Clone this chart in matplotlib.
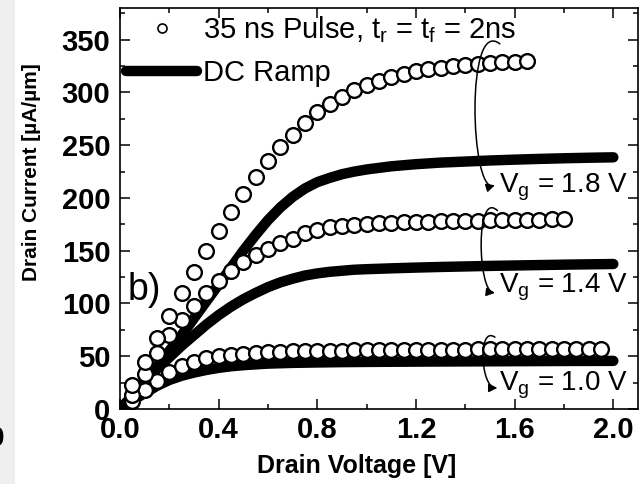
import matplotlib
matplotlib.use("Agg")
import matplotlib.pyplot as plt
from matplotlib.lines import Line2D
from matplotlib.patches import FancyArrowPatch, Rectangle
from matplotlib.path import Path
from matplotlib.ticker import MultipleLocator

plt.rcParams["font.family"] = ["Liberation Sans", "DejaVu Sans"]
plt.rcParams["mathtext.fontset"] = "custom"
plt.rcParams["mathtext.rm"] = "Liberation Sans"
plt.rcParams["mathtext.it"] = "Liberation Sans:italic"
plt.rcParams["mathtext.bf"] = "Liberation Sans:bold"

# ---- pulsed I-V (35 ns pulse), drain voltage in V, current in uA/um ----
v_pulse_10 = [0.05, 0.10, 0.15, 0.20, 0.25, 0.30, 0.35, 0.40, 0.45, 0.50,
              0.55, 0.60, 0.65, 0.70, 0.75, 0.80, 0.85, 0.90, 0.95, 1.00,
              1.05, 1.10, 1.15, 1.20, 1.25, 1.30, 1.35, 1.40, 1.45, 1.50,
              1.55, 1.60, 1.65, 1.70, 1.75, 1.80, 1.85, 1.90, 1.95]
i_pulse_10 = [8, 18, 27, 35, 41, 45, 48, 50, 51.5, 52.5,
              53.2, 53.8, 54.2, 54.5, 54.8, 55.0, 55.2, 55.4, 55.5, 55.6,
              55.7, 55.8, 55.9, 56.0, 56.1, 56.2, 56.2, 56.3, 56.4, 56.4,
              56.5, 56.5, 56.6, 56.6, 56.7, 56.7, 56.8, 56.8, 56.8]

v_pulse_14 = [0.05, 0.10, 0.15, 0.20, 0.25, 0.30, 0.35, 0.40, 0.45, 0.50,
              0.55, 0.60, 0.65, 0.70, 0.75, 0.80, 0.85, 0.90, 0.95, 1.00,
              1.05, 1.10, 1.15, 1.20, 1.25, 1.30, 1.35, 1.40, 1.45, 1.50,
              1.55, 1.60, 1.65, 1.70, 1.75, 1.80]
i_pulse_14 = [13, 33, 53, 70, 84, 98, 110, 121, 131, 139,
              146, 152, 157, 161.5, 167, 170, 172, 173.5, 174.5, 175.3,
              176.0, 176.5, 177.0, 177.3, 177.6, 177.9, 178.2, 178.4, 178.6, 178.8,
              179.0, 179.2, 179.4, 179.5, 179.6, 179.8]

v_pulse_18 = [0.05, 0.10, 0.15, 0.20, 0.25, 0.30, 0.35, 0.40, 0.45, 0.50,
              0.55, 0.60, 0.65, 0.70, 0.75, 0.80, 0.85, 0.90, 0.95, 1.00,
              1.05, 1.10, 1.15, 1.20, 1.25, 1.30, 1.35, 1.40, 1.45, 1.50,
              1.55, 1.60, 1.65]
i_pulse_18 = [23, 45, 67, 88, 110, 130, 150, 169, 187, 204,
              220, 235, 248, 260, 271, 281, 289, 296, 302, 307,
              311, 314.5, 317.5, 320, 322, 323.5, 325, 326, 327, 327.8,
              328.5, 329, 329.5]

# ---- DC ramp I-V ----
v_dc_10 = [0, 0.05, 0.10, 0.15, 0.20, 0.25, 0.30, 0.35, 0.40, 0.45, 0.50,
           0.55, 0.60, 0.70, 0.80, 0.90, 1.00, 1.20, 1.40, 1.60, 1.80, 2.00]
i_dc_10 = [0, 8, 15, 22, 27.5, 31.5, 34.5, 37, 39, 40.5, 41.5,
           42.3, 43, 43.7, 44.1, 44.4, 44.6, 44.9, 45.1, 45.3, 45.5, 45.6]

v_dc_14 = [0, 0.05, 0.10, 0.15, 0.20, 0.25, 0.30, 0.35, 0.40, 0.45, 0.50,
           0.55, 0.60, 0.65, 0.70, 0.75, 0.80, 0.85, 0.90, 0.95, 1.00,
           1.10, 1.20, 1.30, 1.40, 1.50, 1.60, 1.70, 1.80, 1.90, 2.00]
i_dc_14 = [0, 12, 25, 38, 49, 60, 70, 80, 89, 97, 104,
           110, 115.5, 120, 123.5, 126.5, 128.5, 130, 131, 132, 132.5,
           133.3, 134, 134.6, 135.1, 135.6, 136, 136.4, 136.8, 137.1, 137.4]

v_dc_18 = [0, 0.05, 0.10, 0.15, 0.20, 0.25, 0.30, 0.35, 0.40, 0.45, 0.50,
           0.55, 0.60, 0.65, 0.70, 0.75, 0.80, 0.85, 0.90, 0.95, 1.00,
           1.10, 1.20, 1.30, 1.40, 1.50, 1.60, 1.70, 1.80, 1.90, 2.00]
i_dc_18 = [0, 12, 26, 40, 55, 70, 86, 102, 118, 134, 150,
           165, 179, 191, 201, 209, 215, 219, 222.5, 225, 227,
           230, 232, 233.5, 234.5, 235.5, 236.3, 237, 237.6, 238.1, 238.5]

x_ticks = [0.0, 0.4, 0.8, 1.2, 1.6, 2.0]
y_ticks = [0, 50, 100, 150, 200, 250, 300, 350]

gate_labels = ["1.8", "1.4", "1.0"]

W, H = 642, 484
fig = plt.figure(figsize=(W / 100, H / 100), dpi=100)

# faint strip of the neighbouring panel on the far left
fig.patches.append(Rectangle((0, 0), 15 / W, 1, transform=fig.transFigure,
                             facecolor="#efefef", edgecolor="none", zorder=0))
ax_side = fig.add_axes([-0.3, 1 - 415 / H, 0.3 + 5 / W, 415 / H + 0.05])
ax_side.set_facecolor("none")
ax_side.set_xlim(0, 1)
ax_side.yaxis.set_major_locator(MultipleLocator(16.07))
ax_side.tick_params(axis="y", which="both", direction="in", left=False, right=True,
                    labelleft=False, length=5, width=1.0)
ax_side.tick_params(axis="x", bottom=False, labelbottom=False)
ax_side.set_ylim(-12, (415 / H + 0.05) * H)
for s in ["left", "top"]:
    ax_side.spines[s].set_visible(False)
for s in ["right", "bottom"]:
    ax_side.spines[s].set_linewidth(1.0)
fig.text(4 / W, 1 - 426 / H, "0", ha="right", va="top", fontsize=20, fontweight="bold")

ax = fig.add_axes([120 / W, 1 - 409 / H, (638 - 120) / W, (409 - 8) / H])
ax.set_xlim(0, 2.1)
ax.set_ylim(0, 380)

dc_style = dict(color="black", lw=7.5, solid_capstyle="round", zorder=2)
ax.plot(v_dc_10, i_dc_10, **dc_style)
ax.plot(v_dc_14, i_dc_14, **dc_style)
ax.plot(v_dc_18, i_dc_18, **dc_style)

pulse_style = dict(ls="none", marker="o", ms=10.6, mfc="white", mec="black", mew=1.7, zorder=3)
ax.plot(v_pulse_10, i_pulse_10, **pulse_style)
ax.plot(v_pulse_14, i_pulse_14, **pulse_style)
ax.plot(v_pulse_18, i_pulse_18, **pulse_style)

ax.xaxis.set_minor_locator(MultipleLocator(0.2))
ax.yaxis.set_minor_locator(MultipleLocator(25))
ax.set_xticks(x_ticks)
ax.set_xticklabels([f"{t:.1f}" for t in x_ticks])
ax.set_yticks(y_ticks)
ax.set_yticklabels([str(t) for t in y_ticks])
ax.tick_params(which="both", direction="in", top=True, right=True, width=1.1)
ax.tick_params(which="major", length=7, labelsize=21)
ax.tick_params(which="minor", length=3.5)
ax.tick_params(axis="x", pad=5)
ax.tick_params(axis="y", pad=7)
for lab in ax.get_xticklabels() + ax.get_yticklabels():
    lab.set_fontweight("bold")
for s in ax.spines.values():
    s.set_linewidth(1.2)

fig.text(357 / W, 1 - 466 / H, "Drain Voltage [V]", ha="center", va="center",
         fontsize=18, fontweight="bold")
fig.text(32 / W, 1 - 172 / H, "Drain Current [µA/µm]", ha="center", va="center",
         rotation=90, fontsize=15, fontweight="bold")

handles = [
    Line2D([], [], ls="none", marker="o", ms=6.5, mfc="white", mec="black", mew=1.2),
    Line2D([], [], color="black", lw=7.5, solid_capstyle="round"),
]
labels = [r"35 ns Pulse, t$_\mathregular{r}$ = t$_\mathregular{f}$ = 2ns", "DC Ramp"]
ax.legend(handles, labels, loc="upper left", bbox_to_anchor=(0, 1), frameon=False,
          fontsize=21, handlelength=2.45, handletextpad=0.2, labelspacing=0.5,
          borderaxespad=0.0, borderpad=0.2)

ax.text(0.032, 103, "b)", fontsize=27, ha="left", va="baseline")

# curved callouts tying each pulse/DC pair to its gate voltage
callouts = [
    ([(1.54, 346), (1.40, 372), (1.42, 205), (1.52, 212)], 205.5),
    ([(1.53, 188), (1.44, 208), (1.45, 112), (1.52, 110)], 110),
    ([(1.52, 68), (1.45, 80), (1.46, 20), (1.53, 20)], 18),
]
for (pts, ybase), g in zip(callouts, gate_labels):
    path = Path(pts, [Path.MOVETO, Path.CURVE4, Path.CURVE4, Path.CURVE4])
    arr = FancyArrowPatch(path=path, arrowstyle="-|>,head_length=5,head_width=2.5",
                          color="black", lw=1.1, transform=ax.transData, zorder=5)
    ax.add_patch(arr)
    ax.text(1.538, ybase, r"V$_\mathregular{g}$ = " + g + " V", fontsize=20,
            ha="left", va="baseline", zorder=6)

fig.savefig("out.png", dpi=100)
